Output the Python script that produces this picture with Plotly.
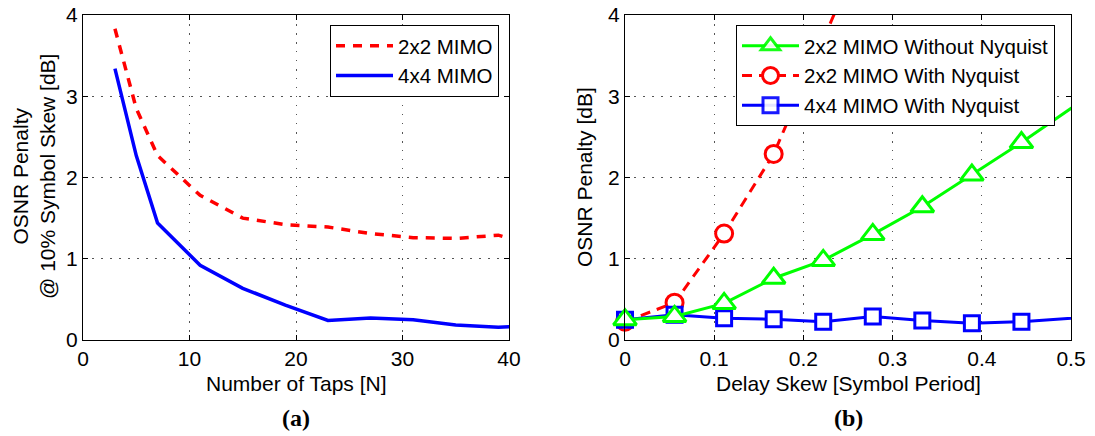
import plotly.graph_objects as go

# ---- data: panel (a) ----
taps = [3, 5, 7, 11, 15, 19, 23, 27, 31, 35, 39, 43]
pen_2x2 = [3.83, 2.85, 2.27, 1.78, 1.50, 1.42, 1.39, 1.31, 1.26, 1.25, 1.29, 1.13]
pen_4x4 = [3.34, 2.27, 1.44, 0.92, 0.636, 0.43, 0.24, 0.27, 0.25, 0.185, 0.156, 0.19]

# ---- data: panel (b) ----
skew = [0, 1/18, 2/18, 3/18, 4/18, 5/18, 6/18, 7/18, 8/18, 10/18]
pen_2x2_no_nyq = [0.25, 0.29, 0.45, 0.76, 0.98, 1.30, 1.64, 2.03, 2.43, 3.27]
pen_2x2_nyq = [0.225, 0.46, 1.31, 2.29, 3.70, 5.10]
pen_4x4_nyq = [0.25, 0.31, 0.267, 0.255, 0.225, 0.29, 0.24, 0.205, 0.225, 0.31]

xticks_a = [0, 10, 20, 30, 40]
xticks_b = [0, 0.1, 0.2, 0.3, 0.4, 0.5]
yticks = [0, 1, 2, 3, 4]

W, H = 1095, 436
FONT = "Liberation Sans, Arial, Helvetica, sans-serif"
FS = 21
LFS = 20.5
XMAX_B = 0.5

def px_x(p):
    return p / W

def px_y(p):
    return 1 - p / H

def vis(xs):
    # hide markers that fall outside the visible x range (lines stay clipped)
    return [1 if x <= XMAX_B + 1e-9 else 0 for x in xs]

fig = go.Figure()

# panel (a)
fig.add_trace(go.Scatter(x=taps, y=pen_2x2, mode="lines", name="2x2 MIMO",
                         line=dict(color="#FF0000", width=3.5, dash="9px,8px"),
                         xaxis="x", yaxis="y", legend="legend"))
fig.add_trace(go.Scatter(x=taps, y=pen_4x4, mode="lines", name="4x4 MIMO",
                         line=dict(color="#0000FF", width=3.5),
                         xaxis="x", yaxis="y", legend="legend"))

# panel (b): draw order red, blue, green (green on top)
x_red = skew[:len(pen_2x2_nyq)]
fig.add_trace(go.Scatter(x=x_red, y=pen_2x2_nyq, mode="lines+markers",
                         name="2x2 MIMO With Nyquist", legendrank=2, cliponaxis=False,
                         line=dict(color="#FF0000", width=3, dash="10px,7px"),
                         marker=dict(symbol="circle", size=17, color="white",
                                     opacity=vis(x_red),
                                     line=dict(color="#FF0000", width=3)),
                         xaxis="x2", yaxis="y2", legend="legend2"))
fig.add_trace(go.Scatter(x=skew, y=pen_4x4_nyq, mode="lines+markers",
                         name="4x4 MIMO With Nyquist", legendrank=3, cliponaxis=False,
                         line=dict(color="#0000FF", width=3),
                         marker=dict(symbol="square", size=15, color="white",
                                     opacity=vis(skew),
                                     line=dict(color="#0000FF", width=3)),
                         xaxis="x2", yaxis="y2", legend="legend2"))
fig.add_trace(go.Scatter(x=skew, y=pen_2x2_no_nyq, mode="lines+markers",
                         name="2x2 MIMO Without Nyquist", legendrank=1, cliponaxis=False,
                         line=dict(color="#00FF00", width=3),
                         marker=dict(symbol="triangle-up", size=20, color="white",
                                     opacity=vis(skew),
                                     line=dict(color="#00FF00", width=3)),
                         xaxis="x2", yaxis="y2", legend="legend2"))

axis_common = dict(showline=True, linecolor="black", linewidth=1, mirror="ticks",
                   ticks="inside", ticklen=5, tickcolor="black", tickwidth=1,
                   showgrid=True, gridcolor="#555555", griddash="1.5px,7.5px", gridwidth=1,
                   zeroline=False, automargin=False,
                   tickfont=dict(family=FONT, size=FS, color="black"))

legend_common = dict(xanchor="right", yanchor="top", bgcolor="white",
                     bordercolor="black", borderwidth=1, itemwidth=57,
                     font=dict(family=FONT, size=LFS, color="black"), tracegroupgap=0)

ydom = [px_y(340), px_y(15)]
fig.update_layout(
    template="none",
    width=W, height=H, margin=dict(l=0, r=0, t=0, b=0, autoexpand=False),
    paper_bgcolor="white", plot_bgcolor="white",
    font=dict(family=FONT, size=FS, color="black"),
    xaxis=dict(domain=[px_x(83), px_x(509)], range=[0, 40], tickvals=xticks_a,
               anchor="y", **axis_common),
    yaxis=dict(domain=ydom, range=[0, 4], tickvals=yticks, anchor="x", **axis_common),
    xaxis2=dict(domain=[px_x(625), px_x(1071)], range=[0, XMAX_B], tickvals=xticks_b,
                anchor="y2", **axis_common),
    yaxis2=dict(domain=ydom, range=[0, 4], tickvals=yticks, anchor="x2", **axis_common),
    legend=dict(x=px_x(499), y=px_y(25), **legend_common),
    legend2=dict(x=px_x(1055), y=px_y(25), **legend_common),
    showlegend=True,
)

annotations = [
    dict(text="Number of Taps [N]", x=px_x(296), y=px_y(383)),
    dict(text="Delay Skew [Symbol Period]", x=px_x(848), y=px_y(383)),
    dict(text="<b>(a)</b>", x=px_x(296), y=px_y(418),
         font=dict(family="Liberation Serif, Times New Roman, serif", size=24, color="black")),
    dict(text="<b>(b)</b>", x=px_x(848), y=px_y(418),
         font=dict(family="Liberation Serif, Times New Roman, serif", size=24, color="black")),
    dict(text="OSNR Penalty<br>@ 10% Symbol Skew [dB]", x=px_x(34), y=px_y(177), textangle=-90),
    dict(text="OSNR Penalty [dB]", x=px_x(585), y=px_y(177), textangle=-90),
]
for a in annotations:
    a.setdefault("font", dict(family=FONT, size=FS, color="black"))
    fig.add_annotation(xref="paper", yref="paper", xanchor="center", yanchor="middle",
                       showarrow=False, **a)

fig.write_html("out.html")
